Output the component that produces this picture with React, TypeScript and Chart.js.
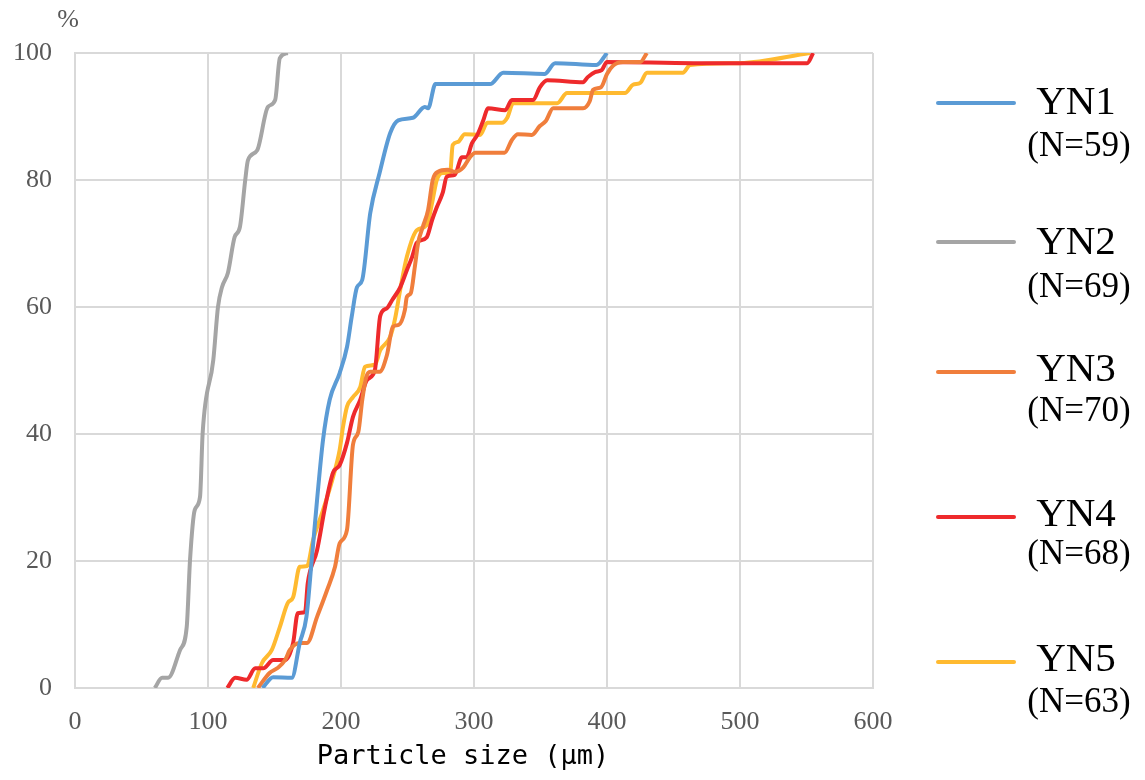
import React, { useEffect, useRef } from "react";
import { Chart, registerables } from "chart.js";

Chart.register(...registerables);

// ---- data ----
const seriesNames = ["YN1", "YN2", "YN3", "YN4", "YN5"];
const sampleCounts = [59, 69, 70, 68, 63];
const xTickValues = [0, 100, 200, 300, 400, 500, 600];
const yTickValues = [0, 20, 40, 60, 80, 100];
const xAxisTitle = "Particle size (μm)";
const yUnit = "%";

const xYN1 = [141, 149, 163, 169, 174, 178, 182, 186.5, 191.5, 199, 204.5, 208, 212, 216, 222, 229, 237, 243, 254, 263, 265.5, 271, 312, 322, 353, 361, 392, 400];
const yYN1 = [0, 1.7, 1.6, 7.1, 11.2, 20.2, 29.6, 39.1, 45.4, 49.6, 53.7, 58.4, 63.1, 64.3, 74.8, 81.1, 87.4, 89.4, 89.8, 91.5, 91.3, 95.1, 95.1, 96.9, 96.7, 98.4, 98.1, 100];

const xYN2 = [60, 65.5, 70, 79, 84, 86.5, 90, 94, 96, 104, 107.5, 110.5, 115, 120, 124, 128, 130, 137, 145, 150.5, 154, 160];
const yYN2 = [0, 1.6, 1.6, 6, 9.6, 20.2, 28, 30.1, 40.2, 51.7, 60, 63.1, 65.4, 71, 72.6, 80, 83.1, 84.7, 91.5, 92.6, 99.2, 100];

const xYN3 = [137.5, 146.5, 152, 158, 161.5, 169, 174.5, 182, 189.5, 195.5, 199, 204.5, 209, 213, 216, 219, 222, 229, 234.5, 239, 243.5, 248, 249.5, 252.5, 255.5, 258, 261.5, 265.5, 269, 273, 280, 286, 292, 297, 301, 323, 328.5, 333, 343.5, 349.5, 354, 359.5, 382, 387, 389.5, 395.5, 400, 404.5, 412, 425, 430];
const yYN3 = [0, 2.4, 3.1, 4.4, 6, 7.1, 7.1, 11.2, 15.4, 19.1, 22.8, 24.9, 38.3, 40.3, 45.4, 49, 49.8, 49.8, 52.4, 56.9, 57.2, 59.5, 61.6, 62.2, 66.3, 70.1, 72.6, 75.3, 80, 81.3, 81.6, 81.3, 82, 83.6, 84.3, 84.3, 86.3, 87.2, 87.1, 88.5, 89.3, 91.3, 91.3, 92.4, 94.2, 94.6, 96.7, 98, 98.6, 98.6, 100];

const xYN4 = [114.5, 120.5, 129, 135.5, 141.5, 149, 158, 164, 167.5, 173, 175, 182, 188, 194, 199, 204.5, 209, 214.5, 219.5, 225.5, 229.5, 234.5, 238.5, 244.5, 249.5, 253.5, 257, 264.5, 268.5, 272, 276.5, 279.5, 285.5, 291, 294.5, 298.5, 302.5, 307, 310.5, 323.5, 328.5, 344.5, 349.5, 355, 382, 385.5, 391, 396, 400, 465, 550.5, 555];
const yYN4 = [0, 1.6, 1.3, 3.1, 3.1, 4.4, 4.4, 7.1, 11.8, 12, 16.5, 21.7, 28.5, 33.9, 35.1, 38.6, 42.7, 45.4, 48.5, 50.1, 58.6, 59.8, 61.1, 63.1, 65.8, 67.9, 70.1, 71, 73.7, 75.7, 78, 80.5, 80.8, 83.6, 83.6, 85.8, 87.1, 89.4, 91.3, 91, 92.6, 92.6, 94.6, 95.7, 95.4, 96.2, 97, 97.3, 98.6, 98.4, 98.4, 100];

const xYN5 = [134, 140.5, 148, 154, 160, 164, 169, 174.5, 179, 186.5, 194, 199, 201.5, 204.5, 209, 214.5, 218, 225.5, 229.5, 237, 240.5, 244.5, 249.5, 257, 264.5, 268.5, 272, 276.5, 282, 284, 288, 293, 304.5, 310, 321, 325, 329.5, 362.5, 370, 413.5, 419.5, 425, 430, 457, 462.5, 500, 552.5];
const yYN5 = [0, 3.9, 6, 9.6, 13.4, 14.3, 19.1, 19.2, 23.3, 28, 33.2, 37.5, 41.1, 44.3, 45.8, 47.4, 50.6, 50.9, 53.2, 55.3, 58, 62.7, 67.9, 72.1, 72.9, 76.4, 80, 81.1, 81.1, 85.5, 86, 87.2, 87.1, 89, 89, 89.8, 92.1, 92.1, 93.7, 93.7, 95, 95.3, 96.9, 96.9, 98.1, 98.4, 100];

const seriesX = [xYN1, xYN2, xYN3, xYN4, xYN5];
const seriesY = [yYN1, yYN2, yYN3, yYN4, yYN5];

// ---- styles / layout ----
const colors = ["#5B9BD5", "#A5A5A5", "#F07E3C", "#EE2A2C", "#FFBA30"];
const TICK_FONT = "'Liberation Serif', 'Times New Roman', serif";
const TITLE_FONT = "'DejaVu Sans Mono', monospace";
const legendLayout = [
  { line: 103, name: 103, count: 147 },
  { line: 242, name: 243, count: 288 },
  { line: 372, name: 370, count: 412 },
  { line: 517, name: 515, count: 555 },
  { line: 662, name: 660, count: 703 },
];

const overlayPlugin = {
  id: "overlay",
  afterDraw(chart: any) {
    const ctx = chart.ctx as CanvasRenderingContext2D;
    ctx.save();
    ctx.textAlign = "center";
    ctx.textBaseline = "middle";
    // "%" unit label
    ctx.fillStyle = "#595959";
    ctx.font = `26px ${TICK_FONT}`;
    ctx.fillText(yUnit, 68, 20);
    // x axis title
    ctx.fillStyle = "#000000";
    ctx.font = `27px ${TITLE_FONT}`;
    ctx.fillText(xAxisTitle, 463, 757);
    // legend
    seriesNames.forEach((name, i) => {
      const L = legendLayout[i];
      ctx.strokeStyle = colors[i];
      ctx.lineWidth = 4;
      ctx.lineCap = "round";
      ctx.beginPath();
      ctx.moveTo(938, L.line);
      ctx.lineTo(1014, L.line);
      ctx.stroke();
      ctx.fillStyle = "#000000";
      ctx.font = `41px ${TICK_FONT}`;
      ctx.fillText(name, 1076, L.name);
      ctx.font = `35px ${TICK_FONT}`;
      ctx.fillText(`(N=${sampleCounts[i]})`, 1079, L.count);
    });
    ctx.restore();
  },
};

export default function App() {
  const canvasRef = useRef<HTMLCanvasElement | null>(null);

  useEffect(() => {
    if (!canvasRef.current) return;
    const datasets = seriesNames.map((name, i) => ({
      label: name,
      data: seriesX[i].map((x, j) => ({ x, y: seriesY[i][j] })),
      borderColor: colors[i],
      backgroundColor: colors[i],
      borderWidth: 4,
      pointRadius: 0,
      cubicInterpolationMode: "monotone" as const,
      fill: false,
    }));
    const chart = new Chart(canvasRef.current, {
      type: "line",
      data: { datasets },
      plugins: [overlayPlugin],
      options: {
        animation: false,
        responsive: false,
        devicePixelRatio: 1,
        layout: { padding: { left: 0, top: 53, right: 272, bottom: 0 } },
        plugins: {
          legend: { display: false },
          tooltip: { enabled: false },
        },
        scales: {
          x: {
            type: "linear",
            min: 0,
            max: 600,
            afterBuildTicks: (scale: any) => {
              scale.ticks = xTickValues.map((v) => ({ value: v }));
            },
            afterFit: (scale: any) => {
              scale.height = 92;
            },
            grid: { color: "#d9d9d9", lineWidth: 2, drawTicks: false },
            border: { display: true, color: "#d9d9d9", width: 2 },
            ticks: {
              padding: 19,
              color: "#595959",
              font: { family: TICK_FONT, size: 26 },
              maxRotation: 0,
            },
          },
          y: {
            type: "linear",
            min: 0,
            max: 100,
            afterBuildTicks: (scale: any) => {
              scale.ticks = yTickValues.map((v) => ({ value: v }));
            },
            afterFit: (scale: any) => {
              scale.width = 75;
            },
            grid: { color: "#d9d9d9", lineWidth: 2, drawTicks: false },
            border: { display: true, color: "#d9d9d9", width: 2 },
            ticks: {
              padding: 23,
              color: "#595959",
              font: { family: TICK_FONT, size: 26 },
            },
          },
        },
      },
    });
    return () => chart.destroy();
  }, []);

  return (
    <div style={{ position: "absolute", left: 0, top: 0, width: 1145, height: 780, background: "#ffffff" }}>
      <canvas ref={canvasRef} width={1145} height={780} />
    </div>
  );
}
